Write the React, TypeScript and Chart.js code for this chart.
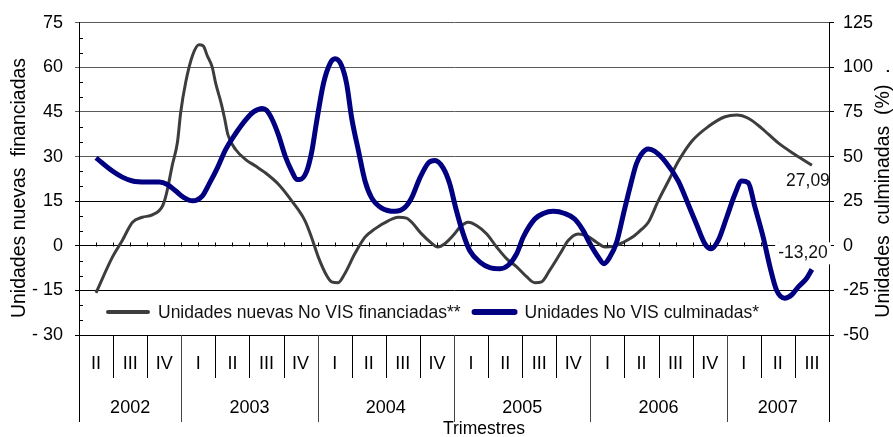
import React, { useEffect, useRef } from 'react';
import { Chart, registerables } from 'chart.js';

Chart.register(...registerables);

// ---- Data ----
// x = quarter index (0 = 2002-II, 21 = 2007-III), fractional positions along the smoothed curve
const quarterLabels = ['II', 'III', 'IV', 'I', 'II', 'III', 'IV', 'I', 'II', 'III', 'IV', 'I', 'II', 'III', 'IV', 'I', 'II', 'III', 'IV', 'I', 'II', 'III'];
const yearLabels = ['2002', '2003', '2004', '2005', '2006', '2007'];
const yearQuarterCounts = [3, 4, 4, 4, 4, 3];

const leftTicks = { min: -30, max: 75, step: 15 };
const rightTicks = { min: -50, max: 125, step: 25 };

const financiadasLabel = 'Unidades nuevas No VIS financiadas**';
const financiadasX = [0, 0.48, 0.77, 1.07, 1.36, 1.65, 1.95, 2.06, 2.24, 2.39, 2.48, 2.63, 2.83, 3.02, 3.14, 3.26, 3.41, 3.51, 3.66, 3.77, 3.87, 4.1, 4.39, 4.68, 4.96, 5.35, 5.74, 6.13, 6.32, 6.52, 6.76, 6.91, 7.1, 7.3, 7.59, 7.89, 8.18, 8.57, 8.86, 9.11, 9.26, 9.55, 9.84, 10.02, 10.23, 10.53, 10.67, 10.92, 11.16, 11.46, 11.75, 12.04, 12.34, 12.63, 12.87, 13.07, 13.31, 13.61, 13.85, 14.14, 14.39, 14.68, 14.93, 15.17, 15.47, 15.76, 16.0, 16.2, 16.49, 16.79, 17.08, 17.47, 17.96, 18.45, 18.79, 19.13, 19.52, 20.01, 20.5, 21];
const financiadasY = [-15.8, -3.8, 1.8, 7.9, 9.6, 10.4, 13.4, 17.3, 27.3, 35, 44.6, 55, 64, 67.6, 67.3, 64, 60, 54.6, 48.4, 42.9, 37.3, 32.3, 29, 26.8, 24.6, 20.7, 15.1, 8.4, 2.9, -3.8, -9.9, -12.1, -12.4, -9.3, -2.7, 2.9, 5.7, 8.4, 9.6, 9.3, 7.9, 4, 0.9, -0.4, 0.7, 4.2, 6.2, 7.9, 6.8, 4, -0.4, -4.3, -7.1, -10.4, -12.4, -12.1, -8.2, -2.7, 1.8, 4, 3.4, 1.2, -0.4, -0.2, 1.2, 3.1, 5.5, 7.9, 15.1, 21.8, 28.4, 35.1, 40.1, 43.4, 44, 42.9, 39.6, 34.6, 30.7, 27.09];

const culminadasLabel = 'Unidades No VIS culminadas*';
const culminadasX = [0, 0.48, 0.77, 1.07, 1.46, 1.85, 2.09, 2.34, 2.58, 2.83, 3.12, 3.31, 3.56, 3.8, 4.1, 4.39, 4.63, 4.88, 5.0, 5.15, 5.35, 5.55, 5.74, 5.89, 5.98, 6.18, 6.33, 6.47, 6.67, 6.86, 7.01, 7.2, 7.35, 7.5, 7.7, 7.89, 8.08, 8.38, 8.77, 9.06, 9.26, 9.5, 9.75, 9.94, 10.18, 10.37, 10.56, 10.77, 10.96, 11.26, 11.55, 11.85, 12.09, 12.34, 12.53, 12.87, 13.12, 13.41, 13.75, 14.04, 14.29, 14.49, 14.73, 14.9, 15.07, 15.27, 15.47, 15.66, 15.85, 16.0, 16.2, 16.39, 16.69, 17.08, 17.37, 17.61, 17.86, 18.04, 18.25, 18.5, 18.74, 18.94, 19.13, 19.33, 19.57, 19.77, 19.96, 20.2, 20.4, 20.6, 20.84, 21];
const culminadasY = [49.3, 41.9, 38.5, 36.3, 35.7, 35.7, 34.4, 30.7, 27, 25.2, 28, 34.4, 43.7, 53.9, 63.1, 70.6, 75.2, 77, 76, 71.5, 62.2, 50.2, 41.9, 37.2, 37.2, 41.9, 53, 69.6, 90.9, 102, 104.8, 101.1, 90.9, 71.5, 53, 36.3, 27, 21.1, 19.3, 21.5, 27, 38.1, 46.5, 47.8, 43.7, 35, 20.5, 6.7, -2.6, -9.1, -12.2, -12.8, -10.9, -4.4, 4.8, 15, 18.1, 19.3, 18.1, 15, 8.5, 1.1, -6.3, -10, -6.3, 2, 17.8, 32.6, 46, 51.5, 54.3, 53, 47.4, 36.3, 23.3, 12.2, 1.1, -1.7, 3, 16, 28.9, 36.3, 35.4, 21.5, 4.8, -11.9, -24.8, -29.4, -27.6, -23, -18.3, -13.2];

const leftTitle = 'Unidades nuevas  financiadas';
const rightTitle = 'Unidades  culminadas  (%)  .';
const xTitle = 'Trimestres';

const FONT = "'Liberation Sans', Arial, Helvetica, sans-serif";
const GREY = '#3d3d3d';
const NAVY = '#000080';

const fmt = (v: number) => v.toFixed(2).replace('.', ',');

const decorPlugin = {
  id: 'decor',
  afterDraw(chart: any) {
    const { ctx, chartArea: ca, scales } = chart;
    const xs = scales.x;
    const yl = scales.y;
    const line = (x1: number, y1: number, x2: number, y2: number) => {
      ctx.beginPath();
      ctx.moveTo(x1, y1);
      ctx.lineTo(x2, y2);
      ctx.stroke();
    };
    const px = (v: number) => Math.round(v) + 0.5;
    ctx.save();
    ctx.strokeStyle = '#000';
    ctx.lineWidth = 1;

    // minor ticks on left axis (every 5 units, inward)
    for (let v = leftTicks.min; v <= leftTicks.max; v += 5) {
      if (v % leftTicks.step === 0) continue;
      const y = px(yl.getPixelForValue(v));
      line(ca.left, y, ca.left + 4, y);
    }
    // tick marks on zero line (every half quarter)
    const y0 = px(yl.getPixelForValue(0));
    for (let q = -0.5; q <= quarterLabels.length - 0.5 + 1e-6; q += 0.5) {
      const x = px(xs.getPixelForValue(q));
      line(x, y0 - 4, x, y0);
    }

    // category table below the plot
    const top = ca.bottom;
    const qBottom = ca.bottom + 43;
    const yBottom = ca.bottom + 87;
    const yearBounds: number[] = [0];
    yearQuarterCounts.forEach((c) => yearBounds.push(yearBounds[yearBounds.length - 1] + c));
    for (let i = 1; i < quarterLabels.length; i++) {
      const x = px(xs.getPixelForValue(i - 0.5));
      const isYear = yearBounds.includes(i);
      ctx.strokeStyle = isYear ? '#444' : '#000';
      line(x, top, x, isYear ? yBottom : qBottom);
    }
    ctx.strokeStyle = '#000';
    line(px(ca.left), top, px(ca.left), yBottom);
    line(px(ca.right), top, px(ca.right), yBottom);

    ctx.fillStyle = '#000';
    ctx.textAlign = 'center';
    ctx.textBaseline = 'middle';
    ctx.font = `18px ${FONT}`;
    quarterLabels.forEach((lab, i) => {
      ctx.fillText(lab, xs.getPixelForValue(i), top + 29);
    });
    yearLabels.forEach((lab, i) => {
      const c = (yearBounds[i] + yearBounds[i + 1] - 1) / 2;
      ctx.fillText(lab, xs.getPixelForValue(c), top + 73);
    });
    ctx.font = `17.5px ${FONT}`;
    ctx.fillText(xTitle, 484, top + 94);

    // axis titles
    ctx.font = `19.5px ${FONT}`;
    ctx.save();
    ctx.translate(20, 188);
    ctx.rotate(-Math.PI / 2);
    ctx.fillText(leftTitle, 0, 0);
    ctx.restore();
    ctx.save();
    ctx.translate(884, 193);
    ctx.rotate(-Math.PI / 2);
    ctx.fillText(rightTitle, 0, 0);
    ctx.restore();

    // legend inside plot
    const ly = ca.bottom - 23;
    let lx = ca.left + 29;
    ctx.textAlign = 'left';
    ctx.font = `17.5px ${FONT}`;
    chart.data.datasets.forEach((ds: any) => {
      ctx.strokeStyle = ds.borderColor;
      ctx.lineWidth = ds.borderWidth + 1;
      ctx.lineCap = 'round';
      line(lx, ly, lx + 40, ly);
      ctx.fillStyle = '#111';
      ctx.fillText(ds.label, lx + 50, ly + 1);
      lx += 50 + ctx.measureText(ds.label).width + 14;
    });

    // end-value labels
    ctx.lineCap = 'butt';
    ctx.textAlign = 'center';
    const m0 = chart.getDatasetMeta(0);
    const p0 = m0.data[m0.data.length - 1];
    const v0 = financiadasY[financiadasY.length - 1];
    ctx.fillStyle = '#111';
    ctx.fillText(fmt(v0), p0.x - 4, p0.y + 16);
    const m1 = chart.getDatasetMeta(1);
    const p1 = m1.data[m1.data.length - 1];
    const v1 = culminadasY[culminadasY.length - 1];
    const t1 = fmt(v1);
    const w1 = ctx.measureText(t1).width;
    ctx.fillStyle = '#fff';
    ctx.fillRect(p1.x - 9 - w1 / 2 - 3, p1.y - 27, w1 + 6, 22);
    ctx.fillStyle = '#111';
    ctx.fillText(t1, p1.x - 9, p1.y - 16);

    ctx.restore();
  },
};

export default function App() {
  const ref = useRef<HTMLCanvasElement | null>(null);
  useEffect(() => {
    if (!ref.current) return;
    const chart = new Chart(ref.current, {
      type: 'line',
      data: {
        datasets: [
          {
            label: financiadasLabel,
            data: financiadasX.map((x, i) => ({ x, y: financiadasY[i] })),
            borderColor: GREY,
            borderWidth: 3,
            pointRadius: 0,
            cubicInterpolationMode: 'monotone',
            yAxisID: 'y',
            order: 1,
          },
          {
            label: culminadasLabel,
            data: culminadasX.map((x, i) => ({ x, y: culminadasY[i] })),
            borderColor: NAVY,
            borderWidth: 5,
            pointRadius: 0,
            cubicInterpolationMode: 'monotone',
            yAxisID: 'y1',
            order: 0,
          },
        ],
      },
      options: {
        responsive: false,
        animation: false,
        devicePixelRatio: 1,
        layout: { padding: { top: 22, bottom: 102, left: 0, right: 0 } },
        plugins: { legend: { display: false }, tooltip: { enabled: false } },
        scales: {
          x: { type: 'linear', min: -0.5, max: quarterLabels.length - 0.5, display: false },
          y: {
            position: 'left',
            min: leftTicks.min,
            max: leftTicks.max,
            ticks: {
              stepSize: leftTicks.step,
              color: '#000',
              padding: 12,
              font: { family: FONT, size: 18 },
              callback: (v: any) => (v < 0 ? '- ' + Math.abs(v) : String(v)),
            },
            grid: {
              color: (c: any) => (c.tick && c.tick.value >= 30 ? '#5a5a5a' : '#000'),
              tickLength: 4,
              lineWidth: 1,
            },
            border: { display: true, color: '#000', width: 1 },
            afterFit: (s: any) => {
              s.width = 79;
            },
          },
          y1: {
            position: 'right',
            min: rightTicks.min,
            max: rightTicks.max,
            ticks: {
              stepSize: rightTicks.step,
              color: '#000',
              padding: 9,
              font: { family: FONT, size: 18 },
            },
            grid: { drawOnChartArea: false, tickLength: 5, color: '#000' },
            border: { display: true, color: '#000', width: 1 },
            afterFit: (s: any) => {
              s.width = 64;
            },
          },
        },
      },
      plugins: [decorPlugin],
    } as any);
    return () => chart.destroy();
  }, []);
  return (
    <div style={{ position: 'fixed', left: 0, top: 0, width: 893, height: 437, background: '#fff' }}>
      <canvas ref={ref} width={893} height={437} style={{ display: 'block' }} />
    </div>
  );
}
